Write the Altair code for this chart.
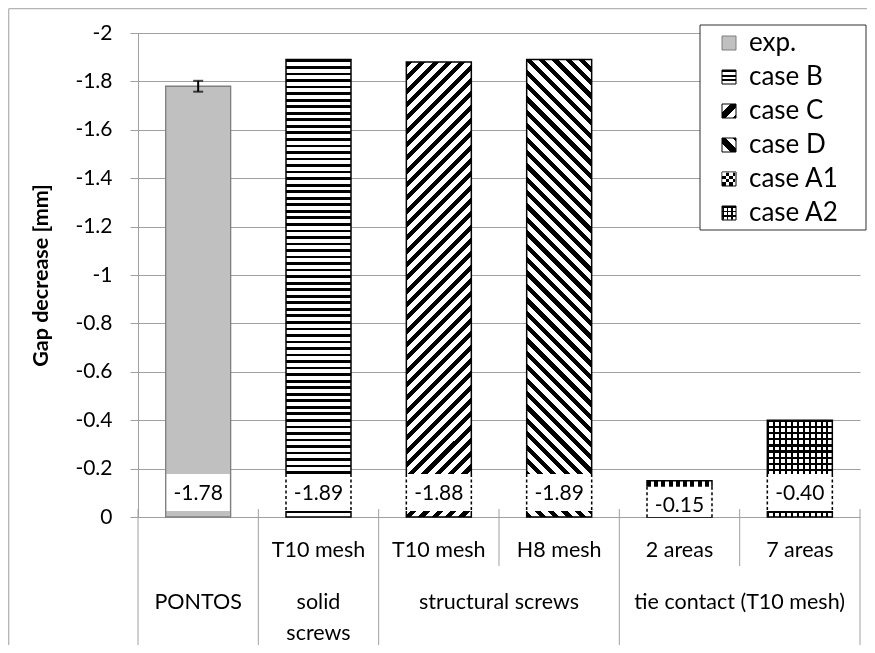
import math
import altair as alt
import pandas as pd

# ---------------- data ----------------
cats = ["PONTOS", "solid T10", "structural T10", "structural H8", "tie 2 areas", "tie 7 areas"]
sub_labels = ["", "T10 mesh", "T10 mesh", "H8 mesh", "2 areas", "7 areas"]
series = ["exp.", "case B", "case C", "case D", "case A1", "case A2"]
values = [-1.78, -1.89, -1.88, -1.89, -0.15, -0.40]
errors = [0.0225, 0, 0, 0, 0, 0]
group_line1 = ["PONTOS", "solid", "structural screws", "tie contact (T10 mesh)"]
group_line2 = ["", "screws", "", ""]
group_span = [1, 1, 2, 2]
y_ticks = [0, -0.2, -0.4, -0.6, -0.8, -1, -1.2, -1.4, -1.6, -1.8, -2]
y_title = "Gap decrease [mm]"

# ---------------- layout / style ----------------
FONT = "Lato"
W, H = 722, 484
PPU = H / 2.0
BAND = W / len(cats)
BAR_FRAC = 0.54
BAR_W = BAND * BAR_FRAC
GRID = "#a0a0a0"


def stripes(n, frac, on="black", off="white"):
    st = []
    for i in range(n):
        a = i / n
        b = (i + frac) / n
        c = (i + 1) / n
        st += [(a, on), (b, on), (b, off), (c, off)]
    return [{"offset": round(float(o), 5), "color": col} for o, col in st]


def hgrad(n, frac, on="black", off="white"):
    return {"gradient": "linear", "x1": 0, "y1": 0, "x2": 0, "y2": 1,
            "stops": stripes(n, frac, on, off)}


def vgrad(n, frac, on="black", off="white"):
    return {"gradient": "linear", "x1": 0, "y1": 0, "x2": 1, "y2": 0,
            "stops": stripes(n, frac, on, off)}


def diag_up(w, h, n, frac):  # "/" stripes at 45 degrees in pixel space
    k = (w + h) / (w * w + h * h)
    return {"gradient": "linear", "x1": 0, "y1": 0,
            "x2": round(k * w, 5), "y2": round(k * h, 5),
            "stops": stripes(n, frac)}


def diag_down(w, h, n, frac):  # "\" stripes
    k = (w + h) / (w * w + h * h)
    return {"gradient": "linear", "x1": 0, "y1": 1,
            "x2": round(k * w, 5), "y2": round(1 - k * h, 5),
            "stops": stripes(n, frac)}


def bar_fill(kind, v):
    h = abs(v) * PPU
    d = (BAR_W + h) / math.sqrt(2)
    if kind == 0:
        return "#c0c0c0", None
    if kind == 1:
        return hgrad(max(1, round(h / 6.5)), 0.42), None
    if kind == 2:
        return diag_up(BAR_W, h, max(1, round(d / 9.4)), 0.47), None
    if kind == 3:
        return diag_down(BAR_W, h, max(1, round(d / 9.4)), 0.47), None
    if kind == 4:
        return vgrad(max(1, round(BAR_W / 7)), 0.55), None
    return (hgrad(max(1, round(h / 5.9)), 0.35),
            vgrad(max(1, round(BAR_W / 5.9)), 0.35, "black", "transparent"))


legend_c = {"gradient": "linear", "x1": 0, "y1": 0, "x2": 1, "y2": 1,
            "stops": [{"offset": 0, "color": "white"}, {"offset": 0.3, "color": "white"},
                      {"offset": 0.3, "color": "black"}, {"offset": 0.64, "color": "black"},
                      {"offset": 0.64, "color": "white"}, {"offset": 0.86, "color": "white"},
                      {"offset": 0.86, "color": "black"}, {"offset": 1, "color": "black"}]}
legend_d = dict(legend_c, x1=0, y1=1, x2=1, y2=0)
legend_fills = [
    ("#c0c0c0", None, None),
    (hgrad(3, 0.42), None, None),
    (legend_c, None, None),
    (legend_d, None, None),
    (vgrad(2, 0.5), hgrad(2, 0.5, "white", "transparent"), "difference"),
    (hgrad(3, 0.35), vgrad(3, 0.35, "black", "transparent"), None),
]

# ---------------- frames ----------------
df = pd.DataFrame({"cat": cats, "sub": sub_labels, "series": series,
                   "value": values, "err": errors})
starts = [sum(group_span[:i]) for i in range(len(group_span))]
gdf = pd.DataFrame({"anchor": [cats[s] for s in starts], "line1": group_line1,
                    "line2": group_line2, "span": group_span})
long_sep = pd.DataFrame({"cat": [cats[s] for s in starts]})
short_sep = pd.DataFrame({"cat": [c for i, c in enumerate(cats) if i not in starts]})
right_sep = pd.DataFrame({"cat": [cats[-1]]})
ldf = pd.DataFrame({"series": series})
one = pd.DataFrame({"a": [0]})

xs = alt.Scale(type="band", domain=cats, paddingInner=0, paddingOuter=0)
ys = alt.Scale(domain=[-2, 0], reverse=True, nice=False)
ls = alt.Scale(type="point", domain=series, range=[10, 180], padding=0)


def X(field="cat", bp=None):
    if bp is None:
        return alt.X(f"{field}:N", scale=xs, axis=None)
    return alt.X(f"{field}:N", scale=xs, axis=None, bandPosition=bp)


def Y(field, axis=None):
    return alt.Y(f"{field}:Q", scale=ys, axis=axis)


base = alt.Chart(df).transform_calculate(
    lo="datum.value - datum.err",
    hi="datum.value + datum.err",
    box_top="datum.value > -0.2 ? datum.value + 0.025 : -0.178",
    box_bot="datum.value > -0.2 ? 0 : -0.025",
    text_y="datum.value > -0.2 ? -0.045 : -0.097",
    label="'-' + format(abs(datum.value), '.2f')",
)

y_axis = alt.Axis(
    values=y_ticks,
    labelExpr="datum.value == 0 ? '0' : '-' + format(abs(datum.value), '~g')",
    labelFont=FONT, labelFontSize=21, labelColor="black", labelPadding=18,
    tickSize=8, tickColor=GRID, domainColor=GRID, gridColor=GRID, grid=True,
    title=y_title, titleFont=FONT, titleFontSize=21.5, titleFontWeight="bold",
    titleColor="black", titleAngle=270, titleX=-97, titleY=H / 2,
    titleAlign="center", titleBaseline="middle",
)

layers = []

# outer chart border (only its left and top edges fall inside the window)
layers.append(alt.Chart(one).mark_rule(color="#b4b4b4", strokeWidth=1.3).encode(
    x=alt.value(-129.3), y=alt.value(-24.3), y2=alt.value(720)))
layers.append(alt.Chart(one).mark_rule(color="#b4b4b4", strokeWidth=1.3).encode(
    x=alt.value(-129.3), x2=alt.value(900), y=alt.value(-24.3)))

# category separators
layers.append(alt.Chart(long_sep).mark_rule(color=GRID, strokeWidth=1).encode(
    x=X("cat", 0), y=alt.value(476), y2=alt.value(640)))
layers.append(alt.Chart(right_sep).mark_rule(color=GRID, strokeWidth=1).encode(
    x=X("cat", 1), y=alt.value(476), y2=alt.value(640)))
layers.append(alt.Chart(short_sep).mark_rule(color=GRID, strokeWidth=1).encode(
    x=X("cat", 0), y=alt.value(476), y2=alt.value(533)))

# bars
for i, (s, v) in enumerate(zip(series, values)):
    fill, overlay = bar_fill(i, v)
    stroke = "#7f7f7f" if i == 0 else "black"
    sw = 1.3 if i == 0 else 1.5
    layers.append(base.transform_filter(alt.datum.series == s).mark_bar(
        width={"band": BAR_FRAC}, fill=fill, stroke=stroke, strokeWidth=sw, opacity=1
    ).encode(x=X(), y=Y("value", y_axis if i == 0 else None)))
    if overlay is not None:
        layers.append(base.transform_filter(alt.datum.series == s).mark_bar(
            width={"band": BAR_FRAC}, fill=overlay, strokeWidth=0, opacity=1
        ).encode(x=X(), y=Y("value")))

# data label boxes
layers.append(base.transform_filter(alt.datum.series == series[0]).mark_bar(
    width={"band": 0.525}, fill="white", strokeWidth=0, opacity=1
).encode(x=X(), y=Y("box_top"), y2=alt.Y2("box_bot")))
layers.append(base.transform_filter(alt.datum.series != series[0]).mark_bar(
    width={"band": 0.56}, fill="white", strokeWidth=0, opacity=1
).encode(x=X(), y=Y("box_top"), y2=alt.Y2("box_bot")))
for bp in (0.5 - BAR_FRAC / 2, 0.5 + BAR_FRAC / 2):
    layers.append(base.transform_filter(alt.datum.series != series[0]).mark_rule(
        color="black", strokeWidth=1.5, strokeDash=[3, 2.5]
    ).encode(x=X("cat", bp), y=Y("box_top"), y2=alt.Y2("box_bot")))

layers.append(base.mark_text(font=FONT, fontSize=21, color="black", baseline="middle").encode(
    x=X("cat", 0.5), y=Y("text_y"), text="label:N"))

# error bar
eb = base.transform_filter(alt.datum.err > 0)
layers.append(eb.mark_rule(color="black", strokeWidth=2).encode(
    x=X("cat", 0.5), y=Y("lo"), y2=alt.Y2("hi")))
for f in ("lo", "hi"):
    layers.append(eb.mark_tick(color="black", thickness=2, size=10).encode(
        x=X("cat", 0.5), y=Y(f)))

# category axis labels
layers.append(alt.Chart(df).mark_text(font=FONT, fontSize=21.5, color="black", baseline="middle").encode(
    x=X("cat", 0.5), y=alt.value(518), text="sub:N"))
for span, bp in ((1, 0.5), (2, 1.0)):
    g = alt.Chart(gdf).transform_filter(alt.datum.span == span)
    layers.append(g.mark_text(font=FONT, fontSize=21.5, color="black", baseline="middle").encode(
        x=X("anchor", bp), y=alt.value(570), text="line1:N"))
    layers.append(g.mark_text(font=FONT, fontSize=21.5, color="black", baseline="middle").encode(
        x=X("anchor", bp), y=alt.value(601), text="line2:N"))

# legend
layers.append(alt.Chart(one).mark_rect(fill="white", stroke="#303030", strokeWidth=1).encode(
    x=alt.value(562), x2=alt.value(728), y=alt.value(-8), y2=alt.value(197)))
for i, s in enumerate(series):
    fill, overlay, blend = legend_fills[i]
    stroke = "#7f7f7f" if i == 0 else "black"
    layers.append(alt.Chart(ldf).transform_filter(alt.datum.series == s).mark_square(
        size=196, fill=fill, stroke=stroke, strokeWidth=1, opacity=1
    ).encode(x=alt.value(591), y=alt.Y("series:N", scale=ls, axis=None)))
    if overlay is not None:
        kw = {"blend": blend} if blend else {}
        layers.append(alt.Chart(ldf).transform_filter(alt.datum.series == s).mark_square(
            size=182, fill=overlay, strokeWidth=0, opacity=1, **kw
        ).encode(x=alt.value(591), y=alt.Y("series:N", scale=ls, axis=None)))
layers.append(alt.Chart(ldf).mark_text(font=FONT, fontSize=26, color="black", align="left",
                                       baseline="middle").encode(
    x=alt.value(611), y=alt.Y("series:N", scale=ls, axis=None), text="series:N"))

chart = alt.layer(*layers).resolve_scale(y="independent").properties(
    width=W, height=H,
    autosize=alt.AutoSizeParams(type="none"),
    padding={"left": 130, "top": 25, "right": 7, "bottom": 128},
).configure_view(stroke=None)

chart.save("out.html", embed_options={"renderer": "svg", "actions": False})
